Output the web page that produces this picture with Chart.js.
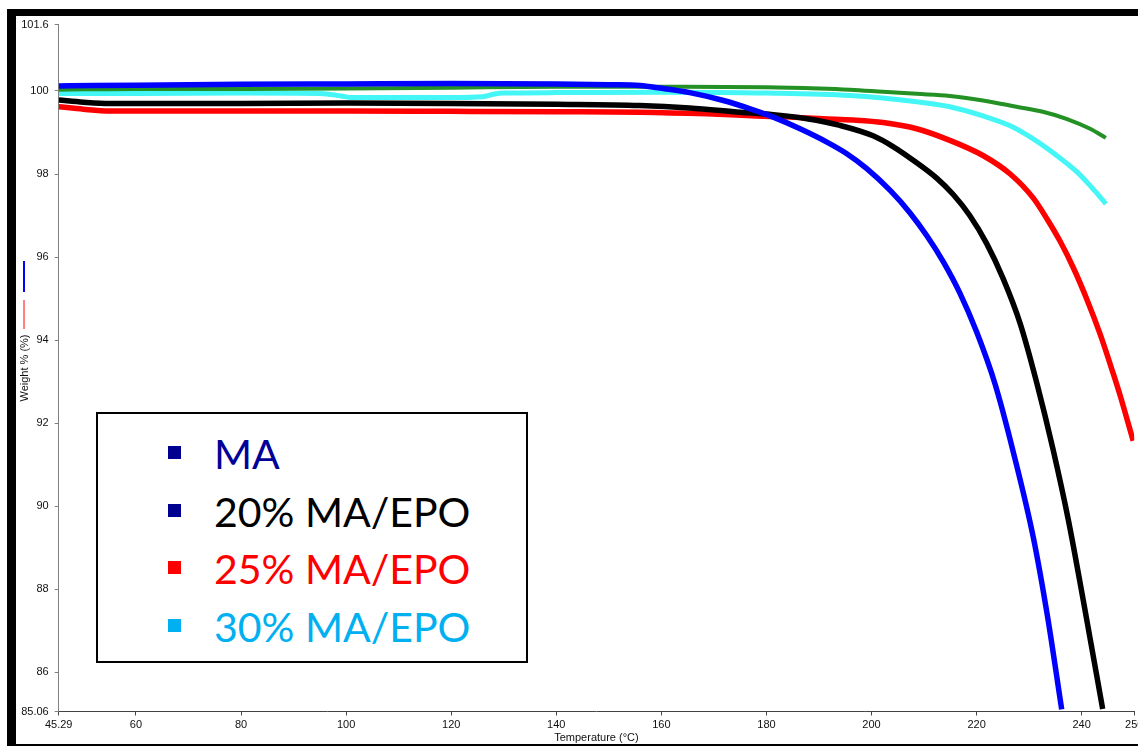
<!DOCTYPE html>
<html>
<head>
<meta charset="utf-8">
<title>TGA weight loss</title>
<script src="https://cdn.jsdelivr.net/npm/chart.js@4.4.1/dist/chart.umd.min.js"></script>
<style>
  html, body { margin: 0; padding: 0; background: #fff; overflow: hidden; }
  #wrap { position: relative; width: 1138px; height: 746px; overflow: hidden; }
  .bar { position: absolute; background: #000; }
  #chart { position: absolute; left: 0; top: 0; }
  #legend {
    position: absolute; left: 96px; top: 412px; width: 428px; height: 236px;
    border: 2px solid #000; background: #fff; padding-top: 11px; box-sizing: content-box;
    font-family: Lato, "Open Sans", sans-serif; font-size: 41px;
  }
  .lg-row { position: relative; height: 57.7px; line-height: 57.7px; white-space: nowrap; }
  .lg-mark { position: absolute; left: 70px; top: 21px; width: 13px; height: 13px; }
  .lg-text { position: absolute; left: 116px; top: 0; }
</style>
</head>
<body>
<div id="wrap">
  <div class="bar" style="left:7px;top:9px;width:1131px;height:7px"></div>
  <div class="bar" style="left:7px;top:9px;width:9px;height:737px"></div>
  <div class="bar" style="left:7px;top:744px;width:1131px;height:2px"></div>
  <canvas id="chart" width="1200" height="746"></canvas>
  <div id="legend"></div>
</div>
<script>
// ── Axis ticks ──────────────────────────────────────────────────────
const xTicks = [45.29, 60, 80, 100, 120, 140, 160, 180, 200, 220, 240, 250];
const yTicks = [85.06, 86, 88, 90, 92, 94, 96, 98, 100, 101.6];

// ── Series: temperature (°C) / weight (%) ───────────────────────────
const maTemp   = [45.29, 52, 60, 80, 100, 120, 140, 150, 155.9, 159.7, 165.4, 171.8, 176.9, 181.3, 186.4, 191.5, 195.3, 199.1, 203.6, 207.3, 210.5, 213.7, 216.8, 220.0, 223.5, 227.0, 230.8, 233.5, 236.2];
const maWeight = [100.12, 100.13, 100.14, 100.16, 100.17, 100.18, 100.17, 100.15, 100.13, 100.07, 99.96, 99.77, 99.57, 99.37, 99.09, 98.77, 98.49, 98.13, 97.6, 97.07, 96.52, 95.88, 95.14, 94.2, 92.95, 91.3, 89.25, 87.35, 85.11];

const epo20Temp   = [45.29, 50, 55, 80, 100, 120, 140, 155.9, 165.4, 175.0, 181.3, 187.7, 194.0, 200.3, 204.1, 208.6, 212.4, 215.6, 218.7, 221.9, 225.1, 228.3, 231.4, 234.5, 237.5, 240.5, 244.0];
const epo20Weight = [99.78, 99.73, 99.70, 99.70, 99.71, 99.70, 99.68, 99.65, 99.59, 99.49, 99.43, 99.33, 99.17, 98.92, 98.66, 98.27, 97.9, 97.5, 97.0, 96.33, 95.47, 94.4, 93.0, 91.4, 89.65, 87.6, 85.12];

const epo25Temp   = [45.29, 50, 55, 80, 100, 120, 140, 155.9, 168.6, 178.1, 184.5, 190.8, 196.5, 202.2, 208.6, 214.9, 221.3, 226.4, 230.8, 233.5, 235.9, 238.5, 241, 243.5, 246, 247.3, 249.8];
const epo25Weight = [99.62, 99.56, 99.52, 99.52, 99.52, 99.51, 99.50, 99.49, 99.45, 99.40, 99.37, 99.33, 99.30, 99.24, 99.09, 98.81, 98.44, 98.0, 97.42, 96.9, 96.38, 95.72, 94.98, 94.15, 93.2, 92.68, 91.58];

const epo30Temp   = [45.29, 60, 80, 95, 99, 101, 110, 120, 126, 128, 130, 140, 160, 180, 195.9, 208.6, 214.9, 221.2, 226.4, 230.7, 235.3, 239.1, 241.6, 244.1, 244.6];
const epo30Weight = [99.94, 99.94, 99.95, 99.94, 99.88, 99.84, 99.84, 99.84, 99.86, 99.92, 99.95, 99.96, 99.97, 99.95, 99.89, 99.74, 99.62, 99.40, 99.16, 98.85, 98.44, 98.05, 97.72, 97.36, 97.28];

// green run (not in legend)
const extraTemp   = [45.29, 60, 80, 100, 120, 140, 160, 180, 190, 195.9, 202.2, 208.6, 214.9, 221.2, 227.6, 232.6, 237.1, 241.6, 244.6];
const extraWeight = [100.03, 100.05, 100.05, 100.06, 100.08, 100.1, 100.1, 100.09, 100.06, 100.03, 99.98, 99.93, 99.88, 99.77, 99.62, 99.50, 99.33, 99.09, 98.87];

// ── Legend box ──────────────────────────────────────────────────────
const legendLabels       = ['MA', '20% MA/EPO', '25% MA/EPO', '30% MA/EPO'];
const legendTextColors   = ['#000099', '#000000', '#ff0000', '#00b0f0'];
const legendMarkerColors = ['#000090', '#000090', '#ff0000', '#00b0f0'];

function toPoints(temps, weights) {
  return temps.map((t, i) => ({ x: t, y: weights[i] }));
}

function renderLegend() {
  const box = document.getElementById('legend');
  box.innerHTML = legendLabels.map((lbl, i) => `<div class="lg-row">
      <span class="lg-mark" style="background:${legendMarkerColors[i]}"></span>
      <span class="lg-text" style="color:${legendTextColors[i]}">${lbl}</span>
    </div>`).join('');
}

// little colour keys beside the y title, as the instrument software draws them
const sideKeys = {
  id: 'sideKeys',
  afterDraw(chart) {
    const { ctx } = chart;
    const x = chart.scales.y.left + 24;
    ctx.save();
    ctx.strokeStyle = '#0000ff'; ctx.lineWidth = 2;
    ctx.beginPath(); ctx.moveTo(x, 261); ctx.lineTo(x, 292); ctx.stroke();
    ctx.strokeStyle = '#ff0000'; ctx.lineWidth = 1;
    ctx.beginPath(); ctx.moveTo(x, 300); ctx.lineTo(x, 329); ctx.stroke();
    ctx.restore();
  },
};

function series(label, temps, weights, color, width) {
  return {
    label,
    data: toPoints(temps, weights),
    borderColor: color,
    backgroundColor: color,
    borderWidth: width,
    pointRadius: 0,
    cubicInterpolationMode: 'monotone',
    fill: false,
  };
}

const tickFont = { family: '"Liberation Sans", Arial, sans-serif', size: 11 };

new Chart(document.getElementById('chart'), {
  type: 'line',
  data: {
    datasets: [
      series('MA', maTemp, maWeight, '#0000ff', 5.5),
      series('20% MA/EPO', epo20Temp, epo20Weight, '#000000', 5.5),
      series('25% MA/EPO', epo25Temp, epo25Weight, '#ff0000', 5.5),
      series('green', extraTemp, extraWeight, '#239123', 4),
      series('30% MA/EPO', epo30Temp, epo30Weight, '#45f6f6', 5),
    ],
  },
  options: {
    responsive: false,
    animation: false,
    layout: { padding: { left: 0, top: 24.5, right: 65.8, bottom: 0 } },
    plugins: { legend: { display: false }, tooltip: { enabled: false } },
    scales: {
      x: {
        type: 'linear', min: 45.29, max: 250,
        afterBuildTicks: s => { s.ticks = xTicks.map(v => ({ value: v })); },
        afterFit: s => { s.height = 34.5; },
        ticks: { autoSkip: false, maxRotation: 0, padding: 3, color: '#111', font: tickFont, callback: v => String(v) },
        grid: { drawOnChartArea: false, drawTicks: true, tickLength: 4, color: '#444' },
        border: { color: '#444', width: 1 },
        title: { display: true, text: 'Temperature (°C)', color: '#111', font: { family: tickFont.family, size: 11 }, padding: { top: 0, bottom: 1 } },
      },
      y: {
        type: 'linear', min: 85.06, max: 101.6,
        afterBuildTicks: s => { s.ticks = yTicks.map(v => ({ value: v })); },
        afterFit: s => { s.width = 58.7; },
        ticks: { autoSkip: false, padding: 6, color: '#111', font: tickFont, callback: v => String(v) },
        grid: { drawOnChartArea: false, drawTicks: true, tickLength: 4, color: '#808080' },
        border: { color: '#808080', width: 1 },
        title: { display: true, text: 'Weight % (%)', color: '#111', font: { family: tickFont.family, size: 11 }, padding: { top: 18, bottom: 0 } },
      },
    },
  },
  plugins: [sideKeys],
});

renderLegend();
</script>
</body>
</html>
